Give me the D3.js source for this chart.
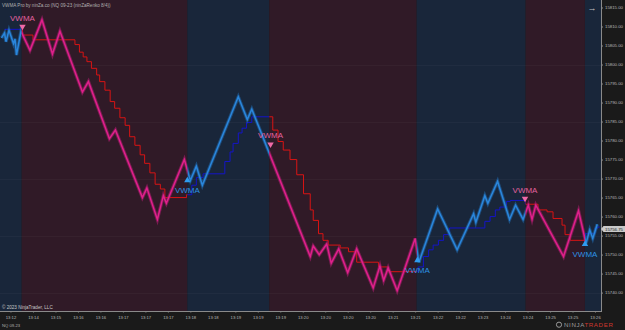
<!DOCTYPE html>
<html><head><meta charset="utf-8">
<script src="https://cdn.jsdelivr.net/npm/d3@7"></script>
<style>
html,body{margin:0;padding:0;background:#1a1a1a;overflow:hidden;}
svg{display:block;font-family:"Liberation Sans",Arial,sans-serif;}
</style></head><body>
<svg id="chart" width="625" height="330"></svg>
<script>
// ---------- data ----------
const title = "VWMA Pro by ninZa.co (NQ 09-23 (ninZaRenko 8/4))";
const priceTicks = [15815,15810,15805,15800,15795,15790,15785,15780,15775,15770,15765,15760,15755,15750,15745,15740];
const timeLabels = ["13:12","13:14","13:15","13:16","13:16","13:17","13:17","13:17","13:18","13:18","13:19","13:19","13:19","13:20","13:20","13:20","13:20","13:21","13:21","13:22","13:22","13:23","13:24","13:24","13:25","13:25","13:26"];
const timeTickBars = [7,22,37,52,67,82,97,112,127,142,157,172,187,202,217,232,247,262,277,292,307,322,337,352,367,382,397];
// trend spans: [startBar, endBar, direction]
const trendSpans = [[0,14.5,"up"],[14.5,125,"down"],[125,179.7,"up"],[179.7,278,"down"],[278,350.7,"up"],[350.7,390.3,"down"],[390.3,401,"up"]];
// renko price swing points [bar, price]
const pricePath = [
 [1,15807],[3,15808.25],[4,15806],[6,15809],[9,15805.5],[10,15806.75],[11,15802.5],[14,15808.75],
 [20,15803.75],[28,15811.75],[35,15802.75],[40,15808.75],[55,15792.75],[59,15795.5],[73,15780.5],[77,15782.75],[95,15765],[98,15767.5],[105,15759.25],[109,15765.5],[111,15763.5],[123,15775],
 [127,15769.5],[131,15773.25],[135,15768.25],[159,15791.5],[165,15785.5],[168,15788.25],
 [207,15749.5],[209,15752.25],[213,15750],[218,15752.75],[221,15747.75],[226,15751.5],[232,15745.25],[238,15751.5],[249,15741.25],[253.5,15747],[256,15743.25],[259,15746.5],[265,15740.5],[277,15754.25],
 [279.5,15748],[292,15762],[305,15751.25],[316,15760.75],[317.5,15758.5],[323.5,15765.5],[325.5,15763.5],[332,15769.25],[340,15759.25],[344,15763],[349,15759.25],
 [352.5,15763],[355,15759.25],[357.5,15763],[376,15749.5],[386,15761.5],[391,15753],
 [393.5,15756.5],[395.5,15754.25],[398.5,15758]
];
// VWMA step line [bar, value]
const vwma = [
 [3,15809.25],[15,15807.75],[22,15806.5],[50,15805.25],[53,15803.25],[55.5,15802],[58,15800.75],[61,15799],[64.5,15797.25],[66.5,15795.5],[70,15793.25],[73.5,15790.25],[76.5,15788.5],[80,15786],[83.5,15784],[86.5,15781],[90,15778.75],[93.5,15776.25],[96.5,15774],[100,15771.5],[103.5,15768.5],[107,15767.25],[110,15765],
 [124.5,15765.75],[128,15768.25],[131,15770.25],[135.5,15771.25],[150,15774.5],[153.5,15777],[155.5,15779.25],[159,15782],[161.5,15783.25],[164.5,15784.75],[168,15786.25],
 [182,15782.75],[185.5,15779.75],[189,15777.5],[193.5,15775],[198,15771],[202.5,15766],[207,15761.75],[209,15759],[212.5,15755.5],[215.5,15753.75],[219,15752.5],[227,15751.75],[232.5,15750.75],[238,15748],[252.5,15746.75],[259,15745.5],
 [279,15746.75],[282.5,15749.5],[286,15751.25],[289,15752.5],[292.5,15753.75],[296,15755.25],[300,15757],[323.5,15758.75],[327,15760],[330.5,15761.75],[333.5,15762.5],[338,15764],[340.5,15764.25],
 [350.5,15763.25],[359,15761.75],[365,15761.25],[369,15759.5],[375,15757.75],[377,15755.25],[380.5,15753.75],
 [390.5,15755.5],[397,15757],[399,15757.25],[400,15757.25]
];
const sellSignals = [[15,15810],[180.5,15779],[350.3,15764.75]];
const buySignals = [[125,15769.5],[278.5,15748.5],[390.3,15752.75]];
const lastPrice = 15756.75;

// ---------- layout ----------
const W = 625, H = 330, plotW = 601, plotH = 311;
const svg = d3.select("#chart");
const x = d3.scaleLinear().domain([0,401]).range([0,plotW]);
const y = d3.scaleLinear().domain([15740,15815]).range([292.6,7.5]);

const colors = {
  upBand:"#19263a", downBand:"#301a27",
  upPrice:"#2a86dc", upPriceEdge:"#1f65a8",
  downPrice:"#e0208c", downPriceEdge:"#a81c6c",
  upVwma:"#1414c8", downVwma:"#d81414",
  upMark:"#2f9cf0", downMark:"#f06aa8",
  axis:"#8a8a8a", text:"#b9b9b9"
};

svg.append("rect").attr("width",W).attr("height",H).attr("fill","#1a1a1a");
const defs = svg.append("defs");
defs.append("clipPath").attr("id","plotClip").append("rect").attr("width",plotW).attr("height",plotH);
["up","down"].forEach(dir=>{
  const cp = defs.append("clipPath").attr("id","clip-"+dir);
  cp.selectAll("rect").data(trendSpans.filter(s=>s[2]===dir)).join("rect")
    .attr("x",d=>x(d[0])).attr("width",d=>x(d[1])-x(d[0])).attr("y",0).attr("height",plotH);
});

const plot = svg.append("g").attr("clip-path","url(#plotClip)");
plot.selectAll("rect.band").data(trendSpans).join("rect").attr("class","band")
  .attr("x",d=>x(d[0])).attr("width",d=>x(d[1])-x(d[0])).attr("y",0).attr("height",plotH)
  .attr("fill",d=>d[2]==="up"?colors.upBand:colors.downBand);

// faint grid
plot.selectAll("line.hg").data([15800,15785,15770,15755,15740]).join("line").attr("class","hg")
  .attr("x1",0).attr("x2",plotW).attr("y1",d=>Math.round(y(d))+0.5).attr("y2",d=>Math.round(y(d))+0.5)
  .attr("stroke","#ffffff").attr("stroke-opacity",0.03);

const priceLine = d3.line().x(d=>x(d[0])).y(d=>y(d[1]));
const vwLine = d3.line().x(d=>x(d[0])).y(d=>y(d[1])).curve(d3.curveStepAfter);

["up","down"].forEach(dir=>{
  const g = plot.append("g").attr("clip-path",`url(#clip-${dir})`);
  g.append("path").attr("d",vwLine(vwma)).attr("fill","none")
    .attr("stroke",dir==="up"?colors.upVwma:colors.downVwma).attr("stroke-width",1);
  g.append("path").attr("d",priceLine(pricePath)).attr("fill","none")
    .attr("stroke",dir==="up"?colors.upPriceEdge:colors.downPriceEdge).attr("stroke-width",3.4)
    .attr("stroke-linejoin","miter").attr("stroke-opacity",0.6);
  g.append("path").attr("d",priceLine(pricePath)).attr("fill","none")
    .attr("stroke",dir==="up"?colors.upPrice:colors.downPrice).attr("stroke-width",1.5)
    .attr("stroke-linejoin","miter");
});

// signals
const tri = d3.symbol().type(d3.symbolTriangle).size(18);
plot.selectAll("path.sell").data(sellSignals).join("path").attr("class","sell")
  .attr("d",tri).attr("fill",colors.downMark)
  .attr("transform",d=>`translate(${x(d[0])},${y(d[1])}) rotate(180)`);
plot.selectAll("text.sell").data(sellSignals).join("text").attr("class","sell")
  .attr("x",d=>x(d[0])).attr("y",d=>y(d[1])-6).attr("text-anchor","middle")
  .attr("font-size",8).attr("fill","#e2629f").text("VWMA");
plot.selectAll("path.buy").data(buySignals).join("path").attr("class","buy")
  .attr("d",tri).attr("fill",colors.upMark)
  .attr("transform",d=>`translate(${x(d[0])},${y(d[1])})`);
plot.selectAll("text.buy").data(buySignals).join("text").attr("class","buy")
  .attr("x",d=>x(d[0])).attr("y",d=>y(d[1])+12.5).attr("text-anchor","middle")
  .attr("font-size",8).attr("fill","#2d92e4").text("VWMA");

// title & copyright
svg.append("text").attr("x",2).attr("y",6.5).attr("font-size",4.6).attr("fill","#b0b0b0").text(title);
svg.append("text").attr("x",2).attr("y",308.5).attr("font-size",4.6).attr("fill","#c8c8c8").text("© 2023 NinjaTrader, LLC");
svg.append("text").attr("x",2).attr("y",327).attr("font-size",4.2).attr("fill","#b0b0b0").text("NQ 09-23");

// right axis
const yAxis = svg.append("g").attr("transform",`translate(${plotW},0)`)
  .call(d3.axisRight(y).tickValues(priceTicks).tickSize(2).tickPadding(2).tickFormat(d3.format(".2f")));
yAxis.select(".domain").attr("stroke",colors.axis).attr("d",`M0.5,0V${plotH}`);
yAxis.selectAll(".tick line").attr("stroke",colors.axis);
yAxis.selectAll(".tick text").attr("fill",colors.text).attr("font-size",4.3).attr("font-family","Liberation Sans, Arial, sans-serif");

// bottom axis
const xAxis = svg.append("g").attr("transform",`translate(0,${plotH})`)
  .call(d3.axisBottom(x).tickValues(timeTickBars).tickSize(1.5).tickPadding(4).tickFormat((d,i)=>timeLabels[i]));
xAxis.select(".domain").attr("stroke",colors.axis).attr("d",`M0,0.5H${plotW+1}`);
xAxis.selectAll(".tick line").attr("stroke",colors.axis);
xAxis.selectAll(".tick text").attr("fill",colors.text).attr("font-size",4.2).attr("font-family","Liberation Sans, Arial, sans-serif");

// last price marker
const ly = y(lastPrice);
svg.append("path").attr("d",`M${plotW},${ly} L${plotW+2.5},${ly-3} H${W} V${ly+3} H${plotW+2.5} Z`).attr("fill","#c9c9c9");
svg.append("text").attr("x",plotW+4).attr("y",ly+1.6).attr("font-size",4.3).attr("fill","#202020").text(d3.format(".2f")(lastPrice));

// scroll arrow
svg.append("text").attr("x",592).attr("y",11).attr("font-size",9).attr("text-anchor","middle").attr("fill","#c0c0c0").text("→");

// logo
const logo = svg.append("g").attr("transform","translate(556,327)");
logo.append("circle").attr("cx",3).attr("cy",-2.3).attr("r",2.6).attr("fill","none").attr("stroke","#9a9a9a").attr("stroke-width",1);
logo.append("text").attr("x",8).attr("y",0).attr("font-size",6.2).attr("letter-spacing",0.6)
  .selectAll("tspan").data([["NINJA","#9c9c9c"],["TRADER","#d0372e"]]).join("tspan").attr("fill",d=>d[1]).text(d=>d[0]);
</script></body></html>
